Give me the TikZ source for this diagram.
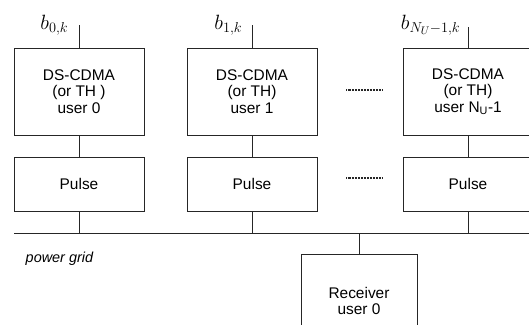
\documentclass[tikz,border=0pt]{standalone}
\usepackage{fontspec}
\setmainfont{Liberation Sans}
\usetikzlibrary{positioning}

\tikzset{
	block/.style={draw, rectangle, minimum width=130bp, align=center, font=\fontsize{15.5}{16.5}\selectfont},
	symb/.style={font=\fontsize{21}{21}\selectfont},
	more/.style={line width=1.3pt, dash pattern=on 0.6pt off 0.9pt}
}

\begin{document}
\begin{tikzpicture}[x=1bp, y=-1bp, line width=0.8bp, draw=black!85]
		\useasboundingbox (0, 0) rectangle (529, 324);
		\clip (0, 0) rectangle (529, 324);

		% spreading blocks
		\node [block, minimum height=87bp] (enc0) at (79, 91.5) {DS-CDMA\\(or TH )\\user 0};
		\node [block, minimum height=87bp] (enc1) at (252, 91.5) {DS-CDMA\\(or TH)\\user 1};
		\node [block, minimum height=87bp] (enc2) at (468, 91.5) {DS-CDMA\\(or TH)\\user N\textsubscript{U}-1};

		% pulse shaping
		\node [block, minimum height=54bp] (p0) at (79, 184) {Pulse};
		\node [block, minimum height=54bp] (p1) at (252, 184) {Pulse};
		\node [block, minimum height=54bp] (p2) at (468, 184) {Pulse};

		\node [block, minimum width=116bp, minimum height=94bp] (rx) at (359, 301) {Receiver\\user 0};

		% data inputs
		\coordinate (in0) at (79, 25);
		\coordinate (in1) at (252, 25);
		\coordinate (in2) at (468, 27);
		\node [symb, anchor=base east] at (72, 29) {$b_{0,k}$};
		\node [symb, anchor=base east] at (246, 29) {$b_{1,k}$};
		\node [symb, anchor=base east] at (464, 29) {$b_{N_U-1,k}$};
		\draw (in0) -- (enc0);
		\draw (in1) -- (enc1);
		\draw (in2) -- (enc2);

		\draw (enc0) -- (p0);
		\draw (enc1) -- (p1);
		\draw (enc2) -- (p2);

		% the power line
		\coordinate (busL) at (14, 233);
		\coordinate (busR) at (540, 233);
		\draw (busL) -- (busR);
		\node [font=\fontsize{14.5}{16}\selectfont\itshape, anchor=west] at (22, 259) {power grid};

		\draw (p0.south) -- (p0.south |- busL);
		\draw (p1.south) -- (p1.south |- busL);
		\draw (p2.south) -- (p2.south |- busL);
		\draw (rx.north) -- (rx.north |- busL);

		\draw [more] (346, 90) -- (382, 90);
		\draw [more] (346, 178) -- (382, 178);
	\end{tikzpicture}
\end{document}
